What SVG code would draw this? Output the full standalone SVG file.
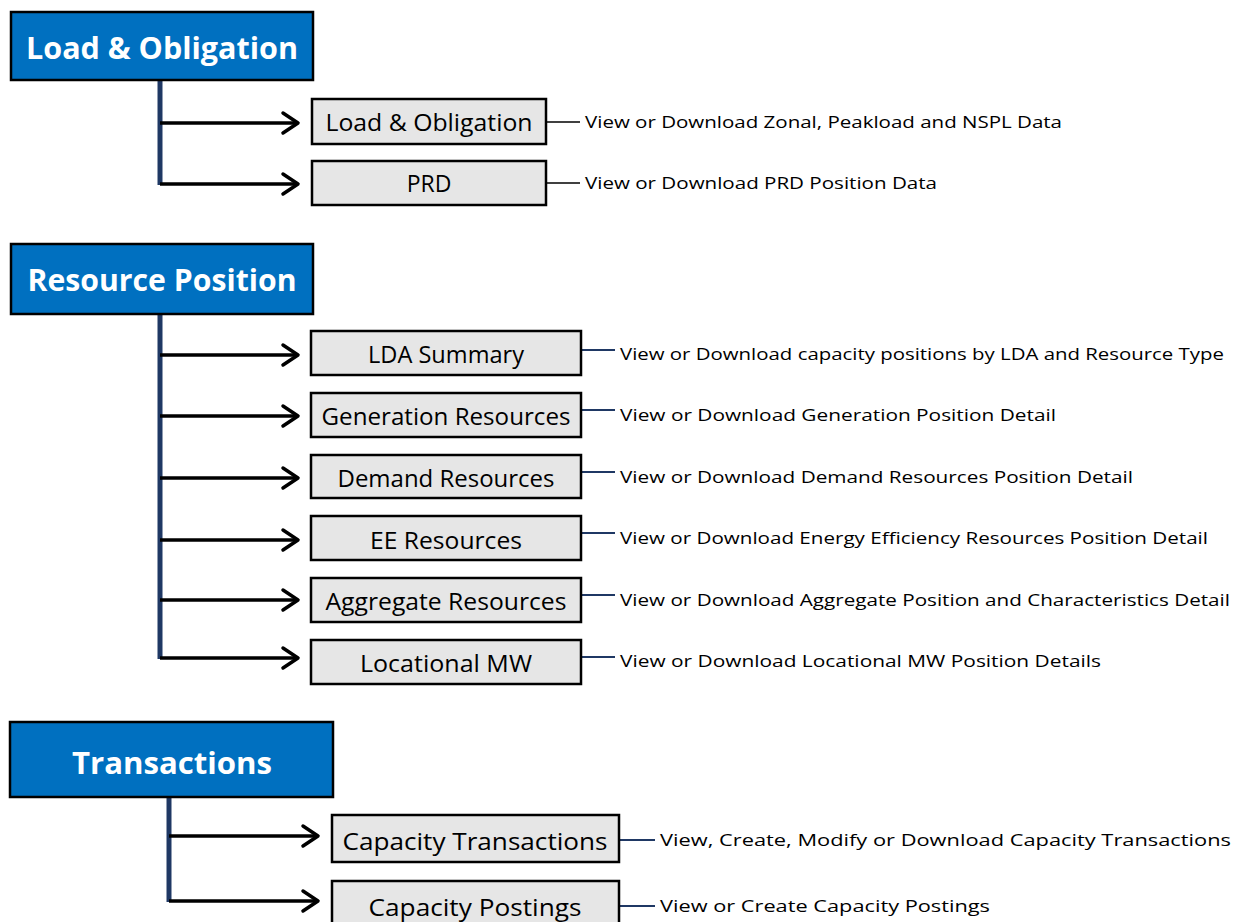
<svg xmlns="http://www.w3.org/2000/svg" width="1238" height="922" viewBox="0 0 1238 922">
<defs>
<style>
.hdr{fill:#0070C0;stroke:#000;stroke-width:2.5}
.hdrt{font-family:"Open Sans","Noto Sans",sans-serif;font-weight:bold;font-size:31px;fill:#fff;text-anchor:middle}
.box{fill:#E6E6E6;stroke:#000;stroke-width:2.5}
.boxt{font-family:"Open Sans","Noto Sans",sans-serif;font-size:23px;fill:#000;text-anchor:middle}
.desc{font-family:"Open Sans","Noto Sans",sans-serif;font-size:17px;fill:#000}
.trunk{stroke:#1F3864;stroke-width:5;fill:none}
.arr{stroke:#000;stroke-width:3.5;fill:none}
.head{stroke:#000;stroke-width:3.5;fill:none;stroke-linecap:round;stroke-linejoin:round}
.lk{stroke:#000;stroke-width:1.5}
.ln{stroke:#1F3864;stroke-width:1.8}
</style>
</defs>

<g id="connectors">
  <!-- Section 1 -->
  <line class="trunk" x1="160" y1="81" x2="160" y2="185"/>
  <line class="arr" x1="160" y1="123" x2="297" y2="123"/>
  <polyline class="head" points="283,113 298,123 283,133"/>
  <line class="arr" x1="160" y1="184" x2="297" y2="184"/>
  <polyline class="head" points="283,174 298,184 283,194"/>
  <line class="lk" x1="547" y1="122" x2="580" y2="122"/>
  <line class="lk" x1="547" y1="183" x2="580" y2="183"/>

  <!-- Section 2 -->
  <line class="trunk" x1="160" y1="315" x2="160" y2="659"/>
  <line class="arr" x1="160" y1="355" x2="297" y2="355"/>
  <polyline class="head" points="283,345 298,355 283,365"/>
  <line class="arr" x1="160" y1="416" x2="297" y2="416"/>
  <polyline class="head" points="283,406 298,416 283,426"/>
  <line class="arr" x1="160" y1="478" x2="297" y2="478"/>
  <polyline class="head" points="283,468 298,478 283,488"/>
  <line class="arr" x1="160" y1="540" x2="297" y2="540"/>
  <polyline class="head" points="283,530 298,540 283,550"/>
  <line class="arr" x1="160" y1="600" x2="297" y2="600"/>
  <polyline class="head" points="283,590 298,600 283,610"/>
  <line class="arr" x1="160" y1="658" x2="297" y2="658"/>
  <polyline class="head" points="283,648 298,658 283,668"/>
  <line class="ln" x1="582" y1="350" x2="615" y2="350"/>
  <line class="ln" x1="582" y1="410" x2="615" y2="410"/>
  <line class="ln" x1="582" y1="472" x2="615" y2="472"/>
  <line class="ln" x1="582" y1="533" x2="615" y2="533"/>
  <line class="ln" x1="582" y1="595" x2="615" y2="595"/>
  <line class="ln" x1="582" y1="657" x2="615" y2="657"/>

  <!-- Section 3 -->
  <line class="trunk" x1="169" y1="798" x2="169" y2="902"/>
  <line class="arr" x1="169" y1="836" x2="317" y2="836"/>
  <polyline class="head" points="303,826 318,836 303,846"/>
  <line class="arr" x1="169" y1="901" x2="317" y2="901"/>
  <polyline class="head" points="303,891 318,901 303,911"/>
  <line class="ln" x1="620" y1="840" x2="655" y2="840"/>
  <line class="ln" x1="620" y1="906" x2="655" y2="906"/>
</g>

<!-- Section 1 nodes -->
<g id="hdr-load">
  <rect class="hdr" x="11" y="12" width="302" height="68"/>
  <text class="hdrt" x="162" y="59" textLength="272" lengthAdjust="spacingAndGlyphs">Load &amp; Obligation</text>
</g>
<g id="box-load">
  <rect class="box" x="312" y="99" width="234" height="45"/>
  <text class="boxt" x="429" y="131" textLength="207" lengthAdjust="spacingAndGlyphs">Load &amp; Obligation</text>
  <text class="desc" x="585" y="128" textLength="477" lengthAdjust="spacingAndGlyphs">View or Download Zonal, Peakload and NSPL Data</text>
</g>
<g id="box-prd">
  <rect class="box" x="312" y="161" width="234" height="44"/>
  <text class="boxt" x="429" y="192">PRD</text>
  <text class="desc" x="585" y="189" textLength="352" lengthAdjust="spacingAndGlyphs">View or Download PRD Position Data</text>
</g>

<!-- Section 2 nodes -->
<g id="hdr-resource">
  <rect class="hdr" x="11" y="244" width="302" height="70"/>
  <text class="hdrt" x="162" y="291" textLength="269" lengthAdjust="spacingAndGlyphs">Resource Position</text>
</g>
<g id="box-lda">
  <rect class="box" x="311" y="331" width="270" height="44"/>
  <text class="boxt" x="446" y="363" textLength="156" lengthAdjust="spacingAndGlyphs">LDA Summary</text>
  <text class="desc" x="620" y="360" textLength="604" lengthAdjust="spacingAndGlyphs">View or Download capacity positions by LDA and Resource Type</text>
</g>
<g id="box-gen">
  <rect class="box" x="311" y="393" width="270" height="44"/>
  <text class="boxt" x="446" y="425" textLength="249" lengthAdjust="spacingAndGlyphs">Generation Resources</text>
  <text class="desc" x="620" y="421" textLength="436" lengthAdjust="spacingAndGlyphs">View or Download Generation Position Detail</text>
</g>
<g id="box-demand">
  <rect class="box" x="311" y="455" width="270" height="43"/>
  <text class="boxt" x="446" y="487" textLength="217" lengthAdjust="spacingAndGlyphs">Demand Resources</text>
  <text class="desc" x="620" y="483" textLength="513" lengthAdjust="spacingAndGlyphs">View or Download Demand Resources Position Detail</text>
</g>
<g id="box-ee">
  <rect class="box" x="311" y="516" width="270" height="44"/>
  <text class="boxt" x="446" y="549" textLength="152" lengthAdjust="spacingAndGlyphs">EE Resources</text>
  <text class="desc" x="620" y="544" textLength="588" lengthAdjust="spacingAndGlyphs">View or Download Energy Efficiency Resources Position Detail</text>
</g>
<g id="box-agg">
  <rect class="box" x="311" y="578" width="270" height="44"/>
  <text class="boxt" x="446" y="610" textLength="241" lengthAdjust="spacingAndGlyphs">Aggregate Resources</text>
  <text class="desc" x="620" y="606" textLength="610" lengthAdjust="spacingAndGlyphs">View or Download Aggregate Position and Characteristics Detail</text>
</g>
<g id="box-loc">
  <rect class="box" x="311" y="640" width="270" height="44"/>
  <text class="boxt" x="446" y="672" textLength="172" lengthAdjust="spacingAndGlyphs">Locational MW</text>
  <text class="desc" x="620" y="667" textLength="481" lengthAdjust="spacingAndGlyphs">View or Download Locational MW Position Details</text>
</g>

<!-- Section 3 nodes -->
<g id="hdr-trans">
  <rect class="hdr" x="10" y="722" width="323" height="75"/>
  <text class="hdrt" x="172" y="774" textLength="200" lengthAdjust="spacingAndGlyphs">Transactions</text>
</g>
<g id="box-captrans">
  <rect class="box" x="332" y="815" width="287" height="47"/>
  <text class="boxt" x="475" y="850" textLength="265" lengthAdjust="spacingAndGlyphs">Capacity Transactions</text>
  <text class="desc" x="660" y="846" textLength="571" lengthAdjust="spacingAndGlyphs">View, Create, Modify or Download Capacity Transactions</text>
</g>
<g id="box-cappost">
  <rect class="box" x="332" y="881" width="287" height="50"/>
  <text class="boxt" x="475" y="916" textLength="213" lengthAdjust="spacingAndGlyphs">Capacity Postings</text>
  <text class="desc" x="660" y="912" textLength="330" lengthAdjust="spacingAndGlyphs">View or Create Capacity Postings</text>
</g>
</svg>
